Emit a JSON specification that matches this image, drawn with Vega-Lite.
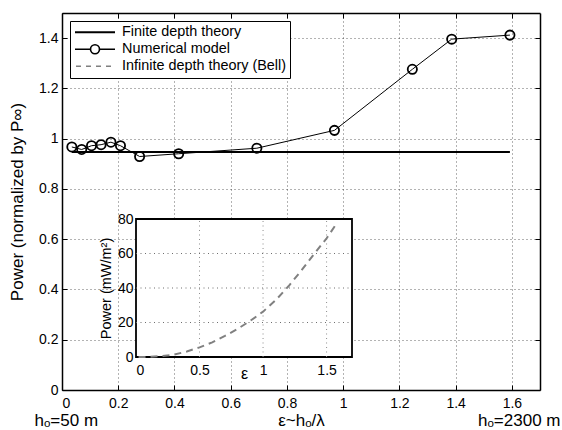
{
  "$schema": "https://vega.github.io/schema/vega-lite/v6.json",
  "width": 478,
  "height": 377,
  "autosize": {"type": "none"},
  "padding": {"left": 62, "top": 13, "right": 22, "bottom": 40},
  "background": "white",
  "datasets": {
    "num": [
      {"eps": 0.035, "power": 0.967, "series": "Numerical model"},
      {"eps": 0.07, "power": 0.957, "series": "Numerical model"},
      {"eps": 0.105, "power": 0.972, "series": "Numerical model"},
      {"eps": 0.139, "power": 0.976, "series": "Numerical model"},
      {"eps": 0.174, "power": 0.986, "series": "Numerical model"},
      {"eps": 0.208, "power": 0.972, "series": "Numerical model"},
      {"eps": 0.276, "power": 0.929, "series": "Numerical model"},
      {"eps": 0.415, "power": 0.94, "series": "Numerical model"},
      {"eps": 0.693, "power": 0.962, "series": "Numerical model"},
      {"eps": 0.969, "power": 1.033, "series": "Numerical model"},
      {"eps": 1.246, "power": 1.276, "series": "Numerical model"},
      {"eps": 1.386, "power": 1.396, "series": "Numerical model"},
      {"eps": 1.593, "power": 1.412, "series": "Numerical model"}
    ],
    "finite": [
      {"eps": 0.035, "power": 0.947, "series": "Finite depth theory"},
      {"eps": 1.593, "power": 0.947, "series": "Finite depth theory"}
    ],
    "bell": [
      {"eps": 0.02, "power": 0},
      {"eps": 0.1, "power": 0.1},
      {"eps": 0.2, "power": 0.5},
      {"eps": 0.3, "power": 1.4},
      {"eps": 0.4, "power": 3.2},
      {"eps": 0.5, "power": 5.6},
      {"eps": 0.6, "power": 8.5},
      {"eps": 0.7, "power": 12.2},
      {"eps": 0.8, "power": 16.3},
      {"eps": 0.9, "power": 21},
      {"eps": 1.0, "power": 26.3},
      {"eps": 1.1, "power": 33},
      {"eps": 1.2, "power": 41},
      {"eps": 1.3, "power": 50},
      {"eps": 1.4, "power": 59.5},
      {"eps": 1.5, "power": 68.8},
      {"eps": 1.58, "power": 77.5}
    ],
    "frame": [{"panel": "inset"}]
  },
  "config": {
    "view": {"stroke": null},
    "font": "Liberation Sans",
    "axis": {
      "labelFont": "Liberation Sans",
      "titleFont": "Liberation Sans",
      "labelColor": "black",
      "titleColor": "black",
      "domainColor": "black",
      "tickColor": "black",
      "titleFontWeight": "normal",
      "labelFontSize": 14,
      "titleFontSize": 17,
      "gridColor": "#000000",
      "gridOpacity": 0.6,
      "gridDash": [1, 3]
    },
    "legend": {
      "orient": "top-left",
      "offset": 8,
      "padding": 4,
      "strokeColor": "black",
      "fillColor": "white",
      "labelFont": "Liberation Sans",
      "labelFontSize": 14.4,
      "labelColor": "black",
      "labelOffset": 6,
      "labelLimit": 400,
      "symbolSize": 1600,
      "symbolOpacity": 1,
      "clipHeight": 14.5,
      "rowPadding": 1
    }
  },
  "resolve": {
    "scale": {"x": "independent", "y": "independent"},
    "axis": {"x": "independent", "y": "independent"}
  },
  "layer": [
    {
      "data": {"name": "num"},
      "encoding": {
        "x": {
          "field": "eps", "type": "quantitative",
          "scale": {"domain": [0, 1.7], "nice": false, "zero": false},
          "axis": {
            "orient": "bottom", "values": [0, 0.2, 0.4, 0.6, 0.8, 1, 1.2, 1.4, 1.6], "format": "~g",
            "title": "ε~hₒ/λ", "titleY": 35, "titleBaseline": "alphabetic",
            "grid": true, "ticks": false, "labelPadding": 6, "domainWidth": 1.5, "zindex": 0
          }
        },
        "y": {
          "field": "power", "type": "quantitative",
          "scale": {"domain": [0, 1.5], "nice": false, "zero": false},
          "axis": {
            "orient": "left", "values": [0, 0.2, 0.4, 0.6, 0.8, 1, 1.2, 1.4], "format": "~g",
            "title": "Power (normalized by P∞)", "titleX": -45, "titleBaseline": "middle",
            "grid": true, "ticks": false, "labelPadding": 4, "domainWidth": 1.5, "zindex": 0
          }
        }
      },
      "layer": [
        {"data": {"name": "finite"}, "mark": {"type": "line", "color": "black", "strokeWidth": 2.2}},
        {"mark": {"type": "line", "color": "black", "strokeWidth": 1}},
        {"mark": {"type": "point", "shape": "circle", "filled": false, "color": "black", "size": 85, "strokeWidth": 1.8, "opacity": 1}},
        {
          "mark": {"type": "point", "filled": false, "opacity": 0},
          "encoding": {
            "color": {
              "field": "series", "type": "nominal",
              "scale": {"domain": ["Finite depth theory", "Numerical model", "Infinite depth theory (Bell)"], "range": ["black", "black", "#808080"]},
              "legend": {"title": null}
            },
            "shape": {
              "field": "series", "type": "nominal",
              "scale": {"domain": ["Finite depth theory", "Numerical model", "Infinite depth theory (Bell)"],
                "range": ["M-1,0H1", "M-1,0H-0.225M0.225,0H1M-0.225,0A0.225,0.225,0,1,1,0.225,0A0.225,0.225,0,1,1,-0.225,0", "M-0.95,0H-0.7M-0.45,0H-0.2M0.05,0H0.3M0.55,0H0.8"]},
              "legend": {"title": null}
            },
            "strokeWidth": {
              "field": "series", "type": "nominal",
              "scale": {"domain": ["Finite depth theory", "Numerical model", "Infinite depth theory (Bell)"], "range": [2, 1.3, 1.5]},
              "legend": {"title": null}
            }
          }
        }
      ]
    },
    {
      "data": {"name": "num"},
      "mark": {"type": "point", "opacity": 0},
      "encoding": {
        "x": {
          "field": "eps", "type": "quantitative",
          "scale": {"domain": [0, 1.7], "nice": false, "zero": false},
          "axis": {"orient": "top", "values": [0, 0.2, 0.4, 0.6, 0.8, 1, 1.2, 1.4, 1.6], "labels": false, "title": null, "grid": false, "tickSize": -5, "domainWidth": 1.5}
        },
        "y": {
          "field": "power", "type": "quantitative",
          "scale": {"domain": [0, 1.5], "nice": false, "zero": false},
          "axis": {"orient": "right", "values": [0, 0.2, 0.4, 0.6, 0.8, 1, 1.2, 1.4], "labels": false, "title": null, "grid": false, "tickSize": -5, "domainWidth": 1.5}
        }
      }
    },
    {
      "data": {"name": "num"},
      "mark": {"type": "point", "opacity": 0},
      "encoding": {
        "x": {
          "field": "eps", "type": "quantitative",
          "scale": {"domain": [0, 1.7], "nice": false, "zero": false},
          "axis": {"orient": "bottom", "values": [0, 0.2, 0.4, 0.6, 0.8, 1, 1.2, 1.4, 1.6], "domain": false, "ticks": true, "tickSize": -5, "labels": false, "grid": false,
            "title": "hₒ=50 m", "titleX": -28, "titleY": 35, "titleAlign": "left", "titleAnchor": "start", "titleBaseline": "alphabetic"}
        },
        "y": {
          "field": "power", "type": "quantitative",
          "scale": {"domain": [0, 1.5], "nice": false, "zero": false},
          "axis": {"orient": "left", "values": [0, 0.2, 0.4, 0.6, 0.8, 1, 1.2, 1.4], "domain": false, "ticks": true, "tickSize": -5, "labels": false, "grid": false, "title": null}
        }
      }
    },
    {
      "data": {"name": "num"},
      "mark": {"type": "point", "opacity": 0},
      "encoding": {
        "x": {
          "field": "eps", "type": "quantitative",
          "scale": {"domain": [0, 1.7], "nice": false, "zero": false},
          "axis": {"orient": "bottom", "domain": false, "ticks": false, "labels": false, "grid": false,
            "title": "hₒ=2300 m", "titleX": 498, "titleY": 35, "titleAlign": "right", "titleAnchor": "end", "titleBaseline": "alphabetic"}
        },
        "y": {"field": "power", "type": "quantitative", "scale": {"domain": [0, 1.5]}, "axis": null}
      }
    },
    {
      "data": {"name": "frame"},
      "mark": {"type": "rect", "fill": "white", "stroke": "black", "strokeWidth": 1.8},
      "encoding": {
        "x": {"datum": 0.000001, "type": "quantitative", "scale": {"domain": [0, 1.7], "range": [74, 290], "nice": false, "zero": false}, "axis": null},
        "x2": {"datum": 1.7},
        "y": {"datum": 0.00001, "type": "quantitative", "scale": {"domain": [0, 80], "range": [344, 206], "nice": false, "zero": false}, "axis": null},
        "y2": {"datum": 80}
      }
    },
    {
      "data": {"name": "frame"},
      "mark": {"type": "rule", "color": "#8c8c8c", "strokeDash": [1, 3.5], "strokeWidth": 1},
      "encoding": {
        "x": {"datum": 0.5, "type": "quantitative", "scale": {"domain": [0, 1.7], "range": [74, 290], "nice": false, "zero": false}, "axis": null},
        "x2": {"datum": 0.5},
        "y": {"datum": 0.00001, "type": "quantitative", "scale": {"domain": [0, 80], "range": [344, 206], "nice": false, "zero": false}, "axis": null},
        "y2": {"datum": 80}
      }
    },
    {
      "data": {"name": "frame"},
      "mark": {"type": "rule", "color": "#8c8c8c", "strokeDash": [1, 3.5], "strokeWidth": 1},
      "encoding": {
        "x": {"datum": 1, "type": "quantitative", "scale": {"domain": [0, 1.7], "range": [74, 290], "nice": false, "zero": false}, "axis": null},
        "x2": {"datum": 1},
        "y": {"datum": 0.00001, "type": "quantitative", "scale": {"domain": [0, 80], "range": [344, 206], "nice": false, "zero": false}, "axis": null},
        "y2": {"datum": 80}
      }
    },
    {
      "data": {"name": "frame"},
      "mark": {"type": "rule", "color": "#8c8c8c", "strokeDash": [1, 3.5], "strokeWidth": 1},
      "encoding": {
        "x": {"datum": 1.5, "type": "quantitative", "scale": {"domain": [0, 1.7], "range": [74, 290], "nice": false, "zero": false}, "axis": null},
        "x2": {"datum": 1.5},
        "y": {"datum": 0.00001, "type": "quantitative", "scale": {"domain": [0, 80], "range": [344, 206], "nice": false, "zero": false}, "axis": null},
        "y2": {"datum": 80}
      }
    },
    {
      "data": {"name": "frame"},
      "mark": {"type": "rule", "color": "#6e6e6e", "strokeDash": [1, 3.5], "strokeWidth": 1},
      "encoding": {
        "y": {"datum": 20, "type": "quantitative", "scale": {"domain": [0, 80], "range": [344, 206], "nice": false, "zero": false}, "axis": null},
        "y2": {"datum": 20},
        "x": {"datum": 0.000001, "type": "quantitative", "scale": {"domain": [0, 1.7], "range": [74, 290], "nice": false, "zero": false}, "axis": null},
        "x2": {"datum": 1.7}
      }
    },
    {
      "data": {"name": "frame"},
      "mark": {"type": "rule", "color": "#6e6e6e", "strokeDash": [1, 3.5], "strokeWidth": 1},
      "encoding": {
        "y": {"datum": 40, "type": "quantitative", "scale": {"domain": [0, 80], "range": [344, 206], "nice": false, "zero": false}, "axis": null},
        "y2": {"datum": 40},
        "x": {"datum": 0.000001, "type": "quantitative", "scale": {"domain": [0, 1.7], "range": [74, 290], "nice": false, "zero": false}, "axis": null},
        "x2": {"datum": 1.7}
      }
    },
    {
      "data": {"name": "frame"},
      "mark": {"type": "rule", "color": "#6e6e6e", "strokeDash": [1, 3.5], "strokeWidth": 1},
      "encoding": {
        "y": {"datum": 60, "type": "quantitative", "scale": {"domain": [0, 80], "range": [344, 206], "nice": false, "zero": false}, "axis": null},
        "y2": {"datum": 60},
        "x": {"datum": 0.000001, "type": "quantitative", "scale": {"domain": [0, 1.7], "range": [74, 290], "nice": false, "zero": false}, "axis": null},
        "x2": {"datum": 1.7}
      }
    },
    {
      "data": {"name": "bell"},
      "encoding": {
        "x": {
          "field": "eps", "type": "quantitative",
          "scale": {"domain": [0, 1.7], "range": [74, 290], "nice": false, "zero": false},
          "axis": {"orient": "bottom", "offset": -33, "values": [0, 0.5, 1, 1.5], "format": "~g",
            "grid": false, "ticks": false, "domain": false, "labelPadding": 6, "labelFontSize": 14,
            "title": "ε", "titleFontSize": 16, "titleY": 21, "titleBaseline": "alphabetic", "zindex": 1}
        },
        "y": {
          "field": "power", "type": "quantitative",
          "scale": {"domain": [0, 80], "range": [344, 206], "nice": false, "zero": false},
          "axis": {"orient": "left", "offset": -74, "values": [0, 20, 40, 60, 80], "format": "d",
            "grid": false, "ticks": false, "domain": false, "labelPadding": 3, "labelFontSize": 14,
            "title": "Power (mW/m²)", "titleFontSize": 14.5, "titleX": -30, "titleBaseline": "middle", "zindex": 1}
        }
      },
      "mark": {"type": "line", "color": "#808080", "strokeDash": [7, 5], "strokeWidth": 2}
    }
  ]
}
